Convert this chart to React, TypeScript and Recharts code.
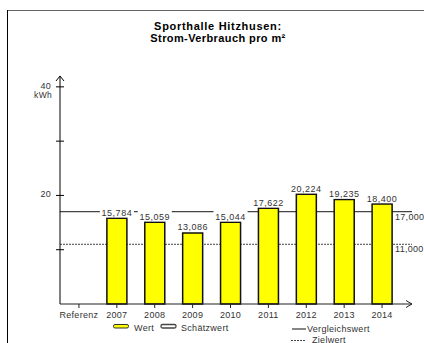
import { ComposedChart, Bar, XAxis, YAxis, ReferenceLine, LabelList } from 'recharts';

const categories = ['Referenz', '2007', '2008', '2009', '2010', '2011', '2012', '2013', '2014'];
const wert = [null, 15.784, 15.059, 13.086, 15.044, 17.622, 20.224, 19.235, 18.4];
const yTicks = [0, 10, 20, 30, 40, 42];
const yLabels = [20, 40];
const vergleichswert = 17;
const zielwert = 11;

const data = categories.map((cat, i) => ({ cat, wert: wert[i] }));

const W = 424;
const H = 343;
// axes get 1px each, so the plot starts at x=60 and ends at y=304
const margin = { top: 76, right: 12, bottom: 38, left: 59 };
const font = '"Liberation Sans", Arial, sans-serif';
const txt = '#333';

const fmt = (v: number) => v.toFixed(3).replace('.', ',');

const YTick = (props: any) => {
  const { x, y, payload } = props;
  const v = payload.value;
  if (v === 0) return <g />;
  if (v === 42) {
    return <path d={`M${x - 4},${y + 5} L${x},${y} L${x + 4},${y + 5}`} fill="none" stroke="#000" />;
  }
  return (
    <g>
      <line x1={x - 4} x2={x + 4} y1={y} y2={y} stroke="#000" />
      {yLabels.includes(v) && (
        <text x={x - 9} y={y + 2} textAnchor="end" fontSize={9} fill={txt} fontFamily={font} letterSpacing={0.3}>
          {v}
        </text>
      )}
      {v === 40 && (
        <text x={x - 8} y={y + 11} textAnchor="end" fontSize={8.5} fill={txt} fontFamily={font} letterSpacing={0.3}>
          kWh
        </text>
      )}
    </g>
  );
};

const XTick = (props: any) => {
  const { x, y, payload } = props;
  return (
    <g>
      <line x1={x} x2={x} y1={y} y2={y + 4} stroke="#222" />
      <text x={x} y={y + 13.5} textAnchor="middle" fontSize={9} fill={txt} fontFamily={font} letterSpacing={0.3}>
        {payload.value}
      </text>
    </g>
  );
};

const ValueLabel = (props: any) => {
  const { x, y, width, value } = props;
  if (value == null) return null;
  const cx = x + width / 2;
  return (
    <g>
      <rect x={cx - 17} y={y - 12} width={34} height={11} fill="#fff" />
      <text x={cx} y={y - 2.5} textAnchor="middle" fontSize={9} fill={txt} fontFamily={font} letterSpacing={0.5}>
        {fmt(value)}
      </text>
    </g>
  );
};

const refLabel = (text: string) => (props: any) => {
  const vb = props.viewBox || {};
  return (
    <text x={vb.x + vb.width - 17} y={vb.y + 8} fontSize={9} fill={txt} fontFamily={font} letterSpacing={0.3}>
      {text}
    </text>
  );
};

const App = () => {
  const right = W - margin.right;
  const baseY = H - margin.bottom - 1;
  return (
    <div style={{ position: 'absolute', left: 0, top: 0, width: W, height: H, background: '#fff' }}>
      <ComposedChart width={W} height={H} data={data} margin={margin}>
        <XAxis
          dataKey="cat"
          type="category"
          height={1}
          interval={0}
          padding={{ left: 0, right: 11 }}
          tickSize={0}
          tickMargin={0}
          tickLine={false}
          tick={<XTick />}
          axisLine={{ stroke: '#222', strokeWidth: 1.2 }}
        />
        <YAxis
          width={1}
          domain={[0, 42]}
          ticks={yTicks}
          interval={0}
          tickSize={0}
          tickMargin={0}
          tickLine={false}
          tick={<YTick />}
          axisLine={{ stroke: '#000' }}
        />
        <ReferenceLine y={vergleichswert} stroke="#444" strokeWidth={1.2} zIndex={0} label={refLabel(fmt(vergleichswert))} />
        <ReferenceLine y={zielwert} stroke="#444" strokeDasharray="2 1" zIndex={0} label={refLabel(fmt(zielwert))} />
        <Bar dataKey="wert" fill="#FFFF00" stroke="#111" strokeWidth={1.5} barSize={20} isAnimationActive={false}>
          <LabelList dataKey="wert" content={<ValueLabel />} />
        </Bar>
      </ComposedChart>
      <svg width={W} height={H} style={{ position: 'absolute', left: 0, top: 0, pointerEvents: 'none' }}>
        <line x1={7} x2={W} y1={10.5} y2={10.5} stroke="#666" />
        <line x1={7.5} x2={7.5} y1={10} y2={H} stroke="#000" />
        <text x={218} y={30} textAnchor="middle" fontSize={11} fontWeight="bold" fill="#000" fontFamily={font} letterSpacing={0.7}>
          Sporthalle Hitzhusen:
        </text>
        <text x={218} y={42} textAnchor="middle" fontSize={11} fontWeight="bold" fill="#000" fontFamily={font} letterSpacing={0.4}>
          Strom-Verbrauch pro m²
        </text>
        <path d={`M${right - 6},${baseY - 3.5} L${right},${baseY} L${right - 6},${baseY + 3.5}`} fill="none" stroke="#222" />
        <rect x={113.5} y={324.5} width={15} height={3.5} rx={1.5} fill="#FFFF00" stroke="#333" />
        <text x={134} y={330.5} fontSize={9} fill={txt} fontFamily={font} letterSpacing={0.3}>Wert</text>
        <rect x={161} y={324.5} width={15} height={3.5} rx={1.5} fill="#fff" stroke="#444" strokeWidth={1.3} />
        <text x={181} y={330.5} fontSize={9} fill={txt} fontFamily={font} letterSpacing={0.3}>Schätzwert</text>
        <line x1={292} x2={306} y1={329} y2={329} stroke="#444" strokeWidth={1.3} />
        <text x={307} y={331.5} fontSize={9} fill={txt} fontFamily={font} letterSpacing={0.3}>Vergleichswert</text>
        <line x1={291} x2={306} y1={340.5} y2={340.5} stroke="#444" strokeDasharray="2 1" />
        <text x={312} y={342.5} fontSize={9} fill={txt} fontFamily={font} letterSpacing={0.3}>Zielwert</text>
      </svg>
    </div>
  );
};

export default App;
